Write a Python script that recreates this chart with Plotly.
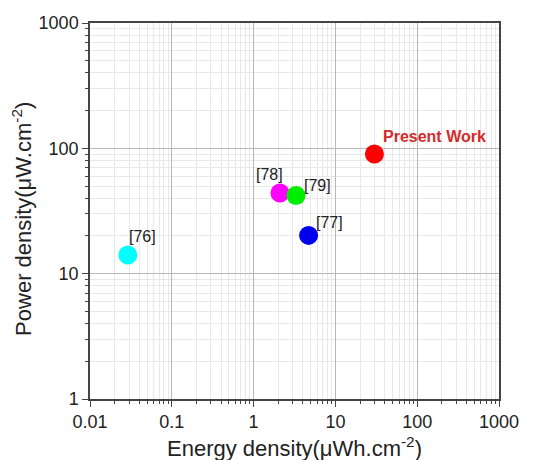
import math
import plotly.graph_objects as go

labels = ["[76]", "[78]", "[79]", "[77]", "Present Work"]
energy = [0.029, 2.1, 3.3, 4.7, 30.0]
power = [14.1, 44.0, 42.0, 20.2, 90.0]
colors = ["#00ffff", "#ff00ff", "#00ee00", "#0000ee", "#ff0000"]

tick_vals = [0.01, 0.1, 1, 10, 100, 1000]
tick_text = ["0.01", "0.1", "1", "10", "100", "1000"]
ytick_vals = [1, 10, 100, 1000]
ytick_text = ["1", "10", "100", "1000"]

x_title = "Energy density(μWh.cm<sup>-2</sup>)"
y_title = "Power density(μW.cm<sup>-2</sup>)"

fig = go.Figure()
fig.add_trace(go.Scatter(
    x=energy, y=power, mode="markers",
    marker=dict(size=19, color=colors, line=dict(width=0)),
    showlegend=False, hoverinfo="skip",
))

# label offsets (in pixels, right/down) relative to each point
offsets = [(15, -18), (-10, -19), (21, -10), (21, -13), (60, -18)]
for i, lab in enumerate(labels):
    bold = lab == "Present Work"
    fig.add_annotation(
        x=math.log10(energy[i]), y=math.log10(power[i]), xref="x", yref="y",
        text=f"<b>{lab}</b>" if bold else lab,
        showarrow=False,
        xshift=offsets[i][0], yshift=-offsets[i][1],
        font=dict(family="Liberation Sans, Arial", size=16,
                  color="#d42a2a" if bold else "#222222"),
    )

# axis titles
fig.add_annotation(x=0.5, y=0, xref="paper", yref="paper", yanchor="middle",
                   yshift=-48, text=x_title, showarrow=False,
                   font=dict(family="Liberation Sans, Arial", size=22, color="#222222"))
fig.add_annotation(x=0, y=0.479, xref="paper", yref="paper", xanchor="center",
                   xshift=-68, text=y_title, showarrow=False, textangle=-90,
                   font=dict(family="Liberation Sans, Arial", size=22, color="#222222"))

axis_common = dict(
    type="log", showline=True, linecolor="#444444", linewidth=1.5, mirror=True,
    ticks="outside", ticklen=6, tickwidth=1.2, tickcolor="#444444",
    showgrid=True, gridcolor="#b8b8b8", gridwidth=1,
    tickfont=dict(family="Liberation Sans, Arial", size=18, color="#222222"),
    zeroline=False,
    minor=dict(dtick="D1", ticks="outside", ticklen=3, tickcolor="#444444",
               showgrid=True, gridcolor="#e8e8e8", gridwidth=1),
)

fig.update_xaxes(range=[-2, 3], tickvals=tick_vals, ticktext=tick_text, **axis_common)
fig.update_yaxes(range=[0, 3], tickvals=ytick_vals, ticktext=ytick_text, **axis_common)

fig.update_layout(
    width=536, height=460,
    margin=dict(l=90, r=37, t=23, b=61),
    paper_bgcolor="white", plot_bgcolor="white",
)

fig.write_html("out.html")
